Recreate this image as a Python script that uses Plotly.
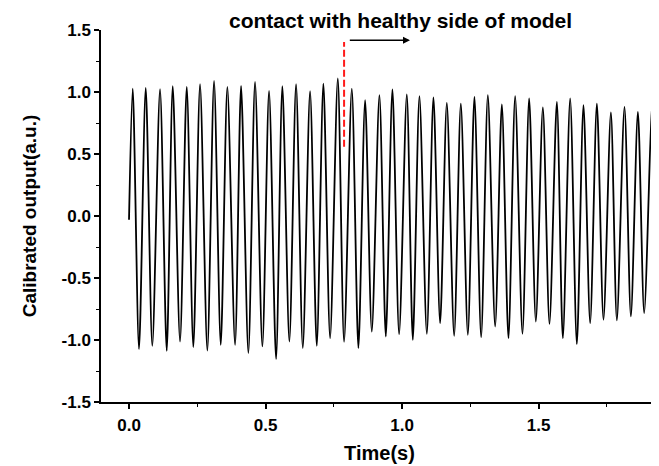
import plotly.graph_objects as go

# ---- data ----
start_time = [0.0]
start_value = [-0.03]

peak_times = [0.0136, 0.0612, 0.1136, 0.1601, 0.2114, 0.2601, 0.3114, 0.3601, 0.4103, 0.4615,
              0.5128, 0.5615, 0.6117, 0.6630, 0.7117, 0.7645, 0.8158, 0.8645, 0.9169, 0.9645,
              1.0172, 1.0634, 1.1147, 1.1637, 1.2150, 1.2648, 1.3139, 1.3652, 1.4139, 1.4652,
              1.5154, 1.5667, 1.6154, 1.6641, 1.7132, 1.7645, 1.8143, 1.8634, 1.9147]
peak_values = [1.028, 1.033, 1.023, 1.047, 1.041, 1.063, 1.089, 1.041, 1.049, 1.081,
               1.009, 1.047, 1.063, 1.006, 1.068, 1.109, 1.028, 0.934, 0.974, 1.020,
               0.980, 0.966, 0.956, 0.912, 0.907, 0.961, 0.974, 0.899, 0.966, 0.948,
               0.875, 0.920, 0.948, 0.894, 0.907, 0.835, 0.880, 0.840, 0.907]

trough_times = [0.0366, 0.0853, 0.1381, 0.1868, 0.2355, 0.2868, 0.3359, 0.3883, 0.4370, 0.4883,
                0.5385, 0.5872, 0.6363, 0.6875, 0.7363, 0.7875, 0.8399, 0.8890, 0.9403, 0.9890,
                1.0392, 1.0905, 1.1392, 1.1905, 1.2407, 1.2894, 1.3407, 1.3894, 1.4407, 1.4897,
                1.5396, 1.5886, 1.6399, 1.6886, 1.7374, 1.7864, 1.8377, 1.8864]
trough_values = [-1.073, -1.047, -1.087, -1.012, -1.057, -1.085, -1.039, -1.039, -1.105, -1.052,
                 -1.154, -1.012, -1.065, -1.047, -0.985, -1.014, -1.065, -0.932, -0.972, -0.953,
                 -0.998, -0.950, -0.864, -0.966, -0.958, -0.977, -0.891, -0.985, -0.950, -0.851,
                 -0.870, -0.985, -1.033, -0.864, -0.837, -0.842, -0.810, -0.783]

end_time = [1.920]
end_value = [0.30]

contact_time = 0.7875
contact_line_y = [0.558, 1.403]
arrow_start = [0.803, 1.417]
arrow_end = [1.029, 1.417]
annotation_text = "contact with healthy side of model"

x_range = [-0.1026, 1.937]
y_range = [-1.5, 1.5]
x_tick_vals = [0.0, 0.5, 1.0, 1.5]
x_tick_text = ["0.0", "0.5", "1.0", "1.5"]
y_tick_vals = [-1.5, -1.0, -0.5, 0.0, 0.5, 1.0, 1.5]
y_tick_text = ["-1.5", "-1.0", "-0.5", "0.0", "0.5", "1.0", "1.5"]

# merge into a single time series
pts = list(zip(start_time, start_value)) + list(zip(peak_times, peak_values)) + \
      list(zip(trough_times, trough_values)) + list(zip(end_time, end_value))
pts.sort(key=lambda p: p[0])
t = [p[0] for p in pts]
v = [p[1] for p in pts]

FONT = "Liberation Sans, Arial, sans-serif"

fig = go.Figure()
fig.add_trace(go.Scatter(x=t, y=v, mode="lines",
                         line=dict(color="black", width=1.8, shape="spline", smoothing=0.8),
                         showlegend=False, hoverinfo="skip"))

fig.add_shape(type="line", xref="x", yref="y",
              x0=contact_time, x1=contact_time, y0=contact_line_y[0], y1=contact_line_y[1],
              line=dict(color="#ff1a1a", width=2, dash="7px,3px"))

fig.add_annotation(x=arrow_end[0], y=arrow_end[1], ax=arrow_start[0], ay=arrow_start[1],
                   xref="x", yref="y", axref="x", ayref="y", text="",
                   showarrow=True, arrowhead=2, arrowsize=1, arrowwidth=1.4, arrowcolor="black")

fig.add_annotation(x=0.537, y=1.0255, xref="paper", yref="paper",
                   xanchor="center", yanchor="middle",
                   text="<b>" + annotation_text + "</b>", showarrow=False,
                   font=dict(family=FONT, size=21, color="black"))

axis_common = dict(showline=True, linecolor="black", linewidth=1.5, mirror=False,
                   showgrid=False, zeroline=False, ticks="outside", ticklen=5, tickwidth=1.5,
                   tickcolor="black",
                   tickfont=dict(family=FONT, size=17, color="black", weight="bold"))

fig.update_xaxes(range=x_range, tickvals=x_tick_vals, ticktext=x_tick_text,
                 minor=dict(dtick=0.25, tick0=0, ticks="outside", ticklen=3, tickwidth=1.2, tickcolor="black"),
                 title=dict(text="<b>Time(s)</b>", font=dict(family=FONT, size=20, color="black"), standoff=12),
                 ticklabelstandoff=2, **axis_common)
fig.update_yaxes(range=y_range, tickvals=y_tick_vals, ticktext=y_tick_text,
                 minor=dict(dtick=0.25, tick0=0, ticks="outside", ticklen=3, tickwidth=1.2, tickcolor="black"),
                 title=dict(text="<b>Calibrated output(a.u.)</b>", font=dict(family=FONT, size=19, color="black"), standoff=20),
                 **axis_common)

# the page body adds an 8px margin, so the figure is drawn 8px smaller
fig.update_layout(width=651, height=458, plot_bgcolor="white", paper_bgcolor="white",
                  margin=dict(l=93, r=1, t=21.5, b=64, autoexpand=False), showlegend=False)

fig.write_html("out.html")
